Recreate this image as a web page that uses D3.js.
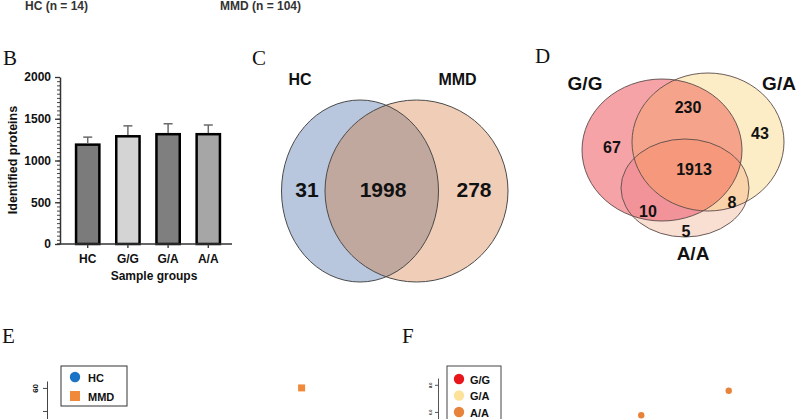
<!DOCTYPE html>
<html>
<head>
<meta charset="utf-8">
<script src="https://cdn.jsdelivr.net/npm/d3@7"></script>
<style>
  body { margin: 0; background: #fff; }
  svg { display: block; }
  text { font-family: "Liberation Sans", Arial, sans-serif; font-weight: bold; fill: #111; }
  .panel { font-family: "Liberation Serif", "Times New Roman", serif; font-weight: normal; font-size: 21px; }
</style>
</head>
<body>
<svg id="fig" width="800" height="419"></svg>
<script>
// ---- data ----
const headerLabels = ["HC (n = 14)", "MMD (n = 104)"];

const groups = ["HC", "G/G", "G/A", "A/A"];
const proteinMeans = [1190, 1290, 1315, 1315];
const proteinSd = [90, 125, 125, 110];
const barColors = ["#7b7b7b", "#d4d4d4", "#7f7f7f", "#a6a6a6"];
const yTicksB = [0, 500, 1000, 1500, 2000];

const vennCSets = ["HC", "MMD"];
const vennCCounts = [31, 1998, 278]; // HC only, both, MMD only

const vennDSets = ["G/G", "G/A", "A/A"];
// region counts: GG only, GA only, GG&GA, all three, GG&AA, GA&AA, AA only
const vennDCounts = [67, 43, 230, 1913, 10, 8, 5];

const legendE = ["HC", "MMD"];
const legendEColors = ["#1a73c4", "#f08a3a"];
const pointsE = [{ g: "MMD", pc1: 24, pc2: 60 }];
const yTicksE = [60, 50];

const legendF = ["G/G", "G/A", "A/A"];
const legendFColors = ["#e8151b", "#fde29b", "#e8833c"];
const pointsF = [{ g: "A/A", pc1: 6.5, pc2: 7.56 }, { g: "A/A", pc1: 1.5, pc2: 5.76 }];
const yTicksF = [8, 6];

const svg = d3.select("#fig");
const defs = svg.append("defs");

// ---- header (top strip) ----
svg.selectAll("text.hdr")
  .data(headerLabels)
  .join("text")
  .attr("class", "hdr")
  .attr("x", (d, i) => [25, 220][i])
  .attr("y", 10)
  .attr("font-size", 12)
  .style("fill", "#333")
  .text(d => d);

// ---- panel letters ----
const letters = [["B", 3, 65], ["C", 252, 65], ["D", 535, 63], ["E", 2, 343], ["F", 402, 343]];
svg.selectAll("text.panel")
  .data(letters)
  .join("text")
  .attr("class", "panel")
  .attr("x", d => d[1])
  .attr("y", d => d[2])
  .text(d => d[0]);

// ---- B: bar chart ----
const gB = svg.append("g");
const x = d3.scaleBand().domain(groups).range([64, 232]).paddingInner(0.42).paddingOuter(0.3);
const y = d3.scaleLinear().domain([0, 2000]).range([244, 77]);

gB.selectAll("rect.bar")
  .data(groups)
  .join("rect")
  .attr("class", "bar")
  .attr("x", d => x(d))
  .attr("width", x.bandwidth())
  .attr("y", (d, i) => y(proteinMeans[i]))
  .attr("height", (d, i) => y(0) - y(proteinMeans[i]))
  .attr("fill", (d, i) => barColors[i])
  .attr("stroke", "#000")
  .attr("stroke-width", 2.5);

const err = gB.selectAll("g.err").data(groups).join("g").attr("class", "err")
  .attr("stroke", "#6a6a6a").attr("stroke-width", 1.5);
err.append("line")
  .attr("x1", d => x(d) + x.bandwidth() / 2).attr("x2", d => x(d) + x.bandwidth() / 2)
  .attr("y1", (d, i) => y(proteinMeans[i]) - 1.2)
  .attr("y2", (d, i) => y(proteinMeans[i] + proteinSd[i]));
err.append("line")
  .attr("x1", d => x(d) + x.bandwidth() / 2 - 4.5).attr("x2", d => x(d) + x.bandwidth() / 2 + 4.5)
  .attr("y1", (d, i) => y(proteinMeans[i] + proteinSd[i]))
  .attr("y2", (d, i) => y(proteinMeans[i] + proteinSd[i]));

const yMinor = gB.append("g").attr("transform", "translate(60,0)")
  .call(d3.axisLeft(y).tickValues(d3.range(0, 2001, 50)).tickSize(3).tickFormat(""));
yMinor.select(".domain").remove();
yMinor.selectAll("line").attr("stroke", "#444");

const yAx = gB.append("g").attr("transform", "translate(60,0)")
  .call(d3.axisLeft(y).tickValues(yTicksB).tickSize(5).tickSizeOuter(0).tickPadding(4).tickFormat(d3.format("d")));
yAx.select(".domain").attr("stroke", "#333").attr("stroke-width", 1.5);
yAx.selectAll("line").attr("stroke", "#333").attr("stroke-width", 1.3);
yAx.selectAll("text").attr("font-size", 12).style("font-weight", "bold").attr("fill", "#111")
  .attr("font-family", "Liberation Sans, Arial, sans-serif");

const xAx = gB.append("g").attr("transform", "translate(0,244)")
  .call(d3.axisBottom(x).tickSize(4).tickSizeOuter(0).tickPadding(6));
xAx.select(".domain").attr("d", "M57,0H232").attr("stroke", "#333").attr("stroke-width", 1.5);
xAx.selectAll("line").attr("stroke", "#333").attr("stroke-width", 1.3);
xAx.selectAll("text").attr("font-size", 12).style("font-weight", "bold").attr("fill", "#111")
  .attr("font-family", "Liberation Sans, Arial, sans-serif");

gB.append("text").attr("x", 154).attr("y", 280).attr("text-anchor", "middle")
  .attr("font-size", 12).text("Sample groups");
gB.append("text").attr("transform", "translate(17,160) rotate(-90)").attr("text-anchor", "middle")
  .attr("font-size", 12.5).text("Identified proteins");

// ---- C: two-set venn ----
const gC = svg.append("g");
const cEll = [{ cx: 360, cy: 191, rx: 78.5, ry: 91, fill: "#b8c6de" },
              { cx: 416.5, cy: 191, rx: 91.5, ry: 91, fill: "#f0cdb6" }];
defs.append("clipPath").attr("id", "clipHC").append("ellipse")
  .attr("cx", cEll[0].cx).attr("cy", cEll[0].cy).attr("rx", cEll[0].rx).attr("ry", cEll[0].ry);
gC.selectAll("ellipse.fill").data(cEll).join("ellipse").attr("class", "fill")
  .attr("cx", d => d.cx).attr("cy", d => d.cy).attr("rx", d => d.rx).attr("ry", d => d.ry)
  .attr("fill", d => d.fill);
gC.append("ellipse").attr("clip-path", "url(#clipHC)")
  .attr("cx", cEll[1].cx).attr("cy", cEll[1].cy).attr("rx", cEll[1].rx).attr("ry", cEll[1].ry)
  .attr("fill", "#c1a89f");
gC.selectAll("ellipse.edge").data(cEll).join("ellipse").attr("class", "edge")
  .attr("cx", d => d.cx).attr("cy", d => d.cy).attr("rx", d => d.rx).attr("ry", d => d.ry)
  .attr("fill", "none").attr("stroke", "#4a4a4a").attr("stroke-width", 1);
gC.selectAll("text.set").data(vennCSets).join("text").attr("class", "set")
  .attr("x", (d, i) => [300, 457.5][i]).attr("y", 85).attr("text-anchor", "middle")
  .attr("font-size", 16).text(d => d);
gC.selectAll("text.cnt").data(vennCCounts).join("text").attr("class", "cnt")
  .attr("x", (d, i) => [307, 383, 474][i]).attr("y", 197).attr("text-anchor", "middle")
  .attr("font-size", 21).text(d => d);

// ---- D: three-set venn ----
const gD = svg.append("g");
const dEll = [{ id: "GG", cx: 662, cy: 150, rx: 80, ry: 71, fill: "#f6a3a7" },
              { id: "GA", cx: 708, cy: 142, rx: 76, ry: 69, fill: "#fdedc6" },
              { id: "AA", cx: 685, cy: 188, rx: 64, ry: 49, fill: "#f9ded2" }];
const ell = (sel, d) => sel.attr("cx", d.cx).attr("cy", d.cy).attr("rx", d.rx).attr("ry", d.ry);
dEll.forEach(d => ell(defs.append("clipPath").attr("id", "clip" + d.id).append("ellipse"), d));

// single sets
dEll.forEach(d => ell(gD.append("ellipse"), d).attr("fill", d.fill));
// pairwise overlaps (a clipped by b)
const pairs = [[1, 0, "#f5a48b"], [2, 0, "#f2939a"], [2, 1, "#fbd3aa"]];
pairs.forEach(([a, b, c]) => {
  ell(gD.append("g").attr("clip-path", `url(#clip${dEll[b].id})`).append("ellipse"), dEll[a]).attr("fill", c);
});
// triple overlap
ell(gD.append("g").attr("clip-path", "url(#clipGG)")
  .append("g").attr("clip-path", "url(#clipGA)").append("ellipse"), dEll[2]).attr("fill", "#f5987b");

gD.selectAll("ellipse.edge").data(dEll).join("ellipse").attr("class", "edge")
  .attr("cx", d => d.cx).attr("cy", d => d.cy).attr("rx", d => d.rx).attr("ry", d => d.ry)
  .attr("fill", "none").attr("stroke", "#5a4a48").attr("stroke-width", 0.9);
gD.selectAll("text.set").data(vennDSets).join("text").attr("class", "set")
  .attr("x", (d, i) => [585, 779, 693][i]).attr("y", (d, i) => [90, 90, 260][i])
  .attr("text-anchor", "middle").attr("font-size", 19).text(d => d);
const dPos = [[612, 153], [760, 139], [688, 113], [694, 175], [648, 217], [732, 208], [686, 237]];
gD.selectAll("text.cnt").data(vennDCounts).join("text").attr("class", "cnt")
  .attr("x", (d, i) => dPos[i][0]).attr("y", (d, i) => dPos[i][1]).attr("text-anchor", "middle")
  .attr("font-size", 16).text(d => d);

// ---- E: PCA (top part visible) ----
const gE = svg.append("g");
const xE = d3.scaleLinear().domain([-50, 50]).range([50, 390]);
const yE = d3.scaleLinear().domain([40, 63]).range([434, 381]);
const yAxE = gE.append("g").attr("transform", "translate(47,0)")
  .call(d3.axisLeft(yE).tickValues(yTicksE).tickSize(4).tickSizeOuter(0)
    .tickFormat(d => d === 60 ? d : ""));
yAxE.select(".domain").attr("stroke", "#444");
yAxE.selectAll("line").attr("stroke", "#444");
yAxE.selectAll("text").attr("font-size", 8).style("font-weight", "bold").attr("fill", "#222")
  .attr("font-family", "Liberation Sans, Arial, sans-serif")
  .attr("transform", "rotate(-90)").attr("x", 0).attr("y", -9).attr("dy", "0").attr("text-anchor", "middle");
gE.selectAll("rect.pt").data(pointsE).join("rect").attr("class", "pt")
  .attr("x", d => xE(d.pc1) - 3.5).attr("y", d => yE(d.pc2) - 3.5)
  .attr("width", 7).attr("height", 7)
  .attr("fill", d => legendEColors[legendE.indexOf(d.g)]);
gE.append("rect").attr("x", 61).attr("y", 366).attr("width", 66).attr("height", 40)
  .attr("fill", "#fff").attr("stroke", "#333").attr("stroke-width", 1);
const legE = gE.selectAll("g.leg").data(legendE).join("g").attr("class", "leg")
  .attr("transform", (d, i) => `translate(75,${377 + i * 19})`);
legE.filter((d, i) => i === 0).append("circle").attr("r", 5.2).attr("fill", legendEColors[0]);
legE.filter((d, i) => i === 1).append("rect").attr("x", -5).attr("y", -5)
  .attr("width", 10).attr("height", 10).attr("fill", legendEColors[1]);
legE.append("text").attr("x", 13).attr("y", 4.5).attr("font-size", 11).text(d => d);

// ---- F: PCA by genotype (top part visible) ----
const gF = svg.append("g");
const xF = d3.scaleLinear().domain([-10, 10]).range([440, 790]);
const yF = d3.scaleLinear().domain([5, 8.5]).range([425.5, 378]);
const yAxF = gF.append("g").attr("transform", "translate(438,0)")
  .call(d3.axisLeft(yF).tickValues(yTicksF).tickSize(3).tickSizeOuter(0));
yAxF.select(".domain").attr("stroke", "#555");
yAxF.selectAll("line").attr("stroke", "#555");
yAxF.selectAll("text").attr("font-size", 4).attr("fill", "#666")
  .attr("font-family", "Liberation Sans, Arial, sans-serif")
  .attr("transform", "rotate(-90)").attr("x", 0).attr("y", -6).attr("dy", "0").attr("text-anchor", "middle");
gF.selectAll("circle.pt").data(pointsF).join("circle").attr("class", "pt")
  .attr("cx", d => xF(d.pc1)).attr("cy", d => yF(d.pc2)).attr("r", 3.2)
  .attr("fill", d => legendFColors[legendF.indexOf(d.g)]);
gF.append("rect").attr("x", 447).attr("y", 366).attr("width", 54).attr("height", 60)
  .attr("fill", "#fff").attr("stroke", "#444").attr("stroke-width", 1);
const legF = gF.selectAll("g.leg").data(legendF).join("g").attr("class", "leg")
  .attr("transform", (d, i) => `translate(459,${379 + i * 16.5})`);
legF.append("circle").attr("r", 5.2).attr("fill", (d, i) => legendFColors[i]);
legF.append("text").attr("x", 11).attr("y", 4.5).attr("font-size", 11).text(d => d);
</script>
</body>
</html>
